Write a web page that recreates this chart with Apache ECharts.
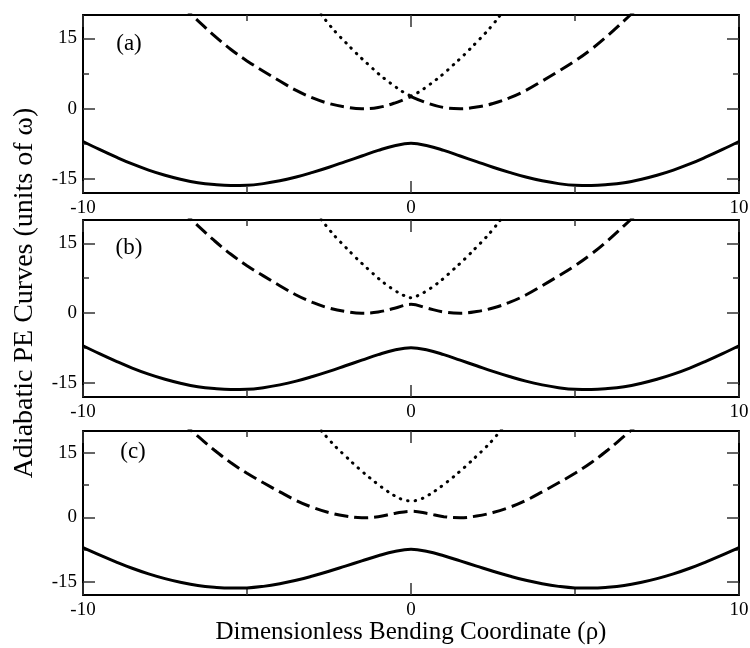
<!DOCTYPE html>
<html>
<head>
<meta charset="utf-8" />
<title>Adiabatic PE Curves</title>
<script src="https://cdn.jsdelivr.net/npm/echarts@6/dist/echarts.min.js"></script>
</head>
<body style="margin:0;background:#fff;">
<div id="main" style="width:750px;height:648px;"></div>
<script>
// lower (solid) curve, same in all three panels
var rhoSolid = [-10, -9.5, -9, -8.5, -8, -7.5, -7, -6.5, -6, -5.5, -5, -4.5, -4, -3.5, -3, -2.5, -2, -1.5, -1, -0.5,
	0, 0.5, 1, 1.5, 2, 2.5, 3, 3.5, 4, 4.5, 5, 5.5, 6, 6.5, 7, 7.5, 8, 8.5, 9, 9.5, 10];
var lowerCurve = [-7.0, -8.7, -10.3, -11.8, -13.1, -14.2, -15.1, -15.8, -16.2, -16.4, -16.35, -16.0, -15.4, -14.6, -13.6, -12.5, -11.3, -10.1, -8.9, -7.9,
	-7.4, -7.9, -8.9, -10.1, -11.3, -12.5, -13.6, -14.6, -15.4, -16.0, -16.35, -16.4, -16.2, -15.8, -15.1, -14.2, -13.1, -11.8, -10.3, -8.7, -7.0];

// middle (dashed) curve
var rhoMid = [-7, -6.5, -6, -5.5, -5, -4.5, -4, -3.5, -3, -2.5, -2, -1.5, -1, -0.5, 0,
	0.5, 1, 1.5, 2, 2.5, 3, 3.5, 4, 4.5, 5, 5.5, 6, 6.5, 7];
var dashA = [22.0, 18.8, 15.6, 12.7, 10.2, 8.0, 5.9, 3.9, 2.3, 1.1, 0.35, 0.0, 0.25, 1.2, 2.6,
	1.2, 0.25, 0.0, 0.35, 1.1, 2.3, 3.9, 5.9, 8.0, 10.2, 12.7, 15.6, 18.8, 22.0];
var dashB = [22.0, 18.8, 15.6, 12.7, 10.2, 8.0, 5.9, 3.9, 2.3, 1.1, 0.35, 0.0, 0.25, 1.05, 1.9,
	1.05, 0.25, 0.0, 0.35, 1.1, 2.3, 3.9, 5.9, 8.0, 10.2, 12.7, 15.6, 18.8, 22.0];
var dashC = [22.0, 18.8, 15.6, 12.7, 10.2, 8.0, 5.9, 3.9, 2.3, 1.1, 0.3, -0.1, 0.15, 0.9, 1.4,
	0.9, 0.15, -0.1, 0.3, 1.1, 2.3, 3.9, 5.9, 8.0, 10.2, 12.7, 15.6, 18.8, 22.0];

// upper (dotted) curve
var rhoUp = [-2.9, -2.75, -2.5, -2.25, -2, -1.75, -1.5, -1.25, -1, -0.75, -0.5, -0.25, 0,
	0.25, 0.5, 0.75, 1, 1.25, 1.5, 1.75, 2, 2.25, 2.5, 2.75, 2.9];
var dotA = [21.3, 20.2, 18.0, 16.0, 14.2, 12.4, 10.7, 9.1, 7.5, 6.1, 4.8, 3.6, 2.7,
	3.6, 4.8, 6.1, 7.5, 9.1, 10.7, 12.4, 14.2, 16.0, 18.0, 20.2, 21.3];
var dotB = [21.3, 20.2, 18.0, 16.0, 14.2, 12.4, 10.7, 9.1, 7.5, 6.1, 4.9, 3.9, 3.3,
	3.9, 4.9, 6.1, 7.5, 9.1, 10.7, 12.4, 14.2, 16.0, 18.0, 20.2, 21.3];
var dotC = [21.3, 20.2, 18.0, 16.0, 14.2, 12.4, 10.7, 9.1, 7.6, 6.2, 5.0, 4.1, 3.8,
	4.1, 5.0, 6.2, 7.6, 9.1, 10.7, 12.4, 14.2, 16.0, 18.0, 20.2, 21.3];

var yLabels = [-15, 0, 15];
var yMinor = [-7.5, 7.5];
var panelNames = ['(a)', '(b)', '(c)'];

var font = '"Liberation Serif", "Times New Roman", serif';
var panels = [
	{ top: 15, height: 178, dash: dashA, dot: dotA, cusp: true, label: [129, 44] },
	{ top: 220, height: 177, dash: dashB, dot: dotB, cusp: false, label: [129, 248] },
	{ top: 431, height: 164, dash: dashC, dot: dotC, cusp: false, label: [133, 452] }
];

function pairs(xs, ys, from, to) {
	var out = [];
	for (var i = 0; i < xs.length; i++) {
		if (xs[i] >= from && xs[i] <= to) out.push([xs[i], ys[i]]);
	}
	return out;
}

var frame = { color: '#000', width: 2 };
var tick = { color: '#333', width: 1.5 };

function xAxisFor(g, pos) {
	return {
		gridIndex: g, type: 'value', position: pos, min: -10, max: 10, interval: 10,
		axisLine: { onZero: false, lineStyle: frame },
		axisTick: { inside: true, length: 12, lineStyle: tick },
		minorTick: { show: true, splitNumber: 2, length: 6, lineStyle: tick },
		axisLabel: {
			show: pos === 'bottom', margin: 6, color: '#000', fontFamily: font, fontSize: 19,
			showMinLabel: true, showMaxLabel: true
		},
		splitLine: { show: false }
	};
}

function yAxisFor(g, pos, ticks, len, main) {
	return {
		gridIndex: g, type: 'value', position: pos, min: -18, max: 20,
		axisLine: { show: main, onZero: false, lineStyle: frame },
		axisTick: { inside: true, length: len, customValues: ticks, lineStyle: tick },
		axisLabel: {
			show: main && pos === 'left', customValues: yLabels, margin: 6,
			color: '#000', fontFamily: font, fontSize: 19
		},
		splitLine: { show: false }
	};
}

var grids = [], xAxes = [], yAxes = [], series = [], graphics = [];

panels.forEach(function (p, i) {
	grids.push({ left: 83, width: 656, top: p.top, height: p.height, outerBoundsMode: 'none' });
	xAxes.push(xAxisFor(i, 'bottom'), xAxisFor(i, 'top'));
	yAxes.push(
		yAxisFor(i, 'left', yLabels, 12, true),
		yAxisFor(i, 'left', yMinor, 6, false),
		yAxisFor(i, 'right', yLabels, 12, true),
		yAxisFor(i, 'right', yMinor, 6, false)
	);

	var base = { type: 'line', xAxisIndex: 2 * i, yAxisIndex: 4 * i, symbol: 'none', smooth: 0.4, silent: true };
	series.push(Object.assign({}, base, {
		data: pairs(rhoSolid, lowerCurve, -99, 99),
		lineStyle: { color: '#000', width: 3 }
	}));

	// panel (a) has cusps at rho = 0, so draw each half on its own
	var parts = p.cusp ? [[-99, 0], [0, 99]] : [[-99, 99]];
	parts.forEach(function (r) {
		series.push(Object.assign({}, base, {
			data: pairs(rhoMid, p.dash, r[0], r[1]),
			lineStyle: { color: '#000', width: 3, type: [14, 6] }
		}));
		series.push(Object.assign({}, base, {
			data: pairs(rhoUp, p.dot, r[0], r[1]),
			lineStyle: { color: '#000', width: 3, type: [0.5, 7], cap: 'round' }
		}));
	});

	graphics.push({
		type: 'text', x: p.label[0], y: p.label[1],
		style: { text: panelNames[i], font: '23px ' + font, fill: '#000', textAlign: 'center', textVerticalAlign: 'middle' }
	});
});

graphics.push({
	type: 'text', x: 25, y: 293, rotation: Math.PI / 2,
	style: { text: 'Adiabatic PE Curves (units of ω)', font: '28px ' + font, fill: '#000', textAlign: 'center', textVerticalAlign: 'middle' }
});
graphics.push({
	type: 'text', x: 411, y: 632,
	style: { text: 'Dimensionless Bending Coordinate (ρ)', font: '25px ' + font, fill: '#000', textAlign: 'center', textVerticalAlign: 'middle' }
});

var myChart = echarts.init(document.getElementById('main'));
myChart.setOption({
	animation: false,
	backgroundColor: '#fff',
	grid: grids,
	xAxis: xAxes,
	yAxis: yAxes,
	series: series,
	graphic: graphics
});
</script>
</body>
</html>
